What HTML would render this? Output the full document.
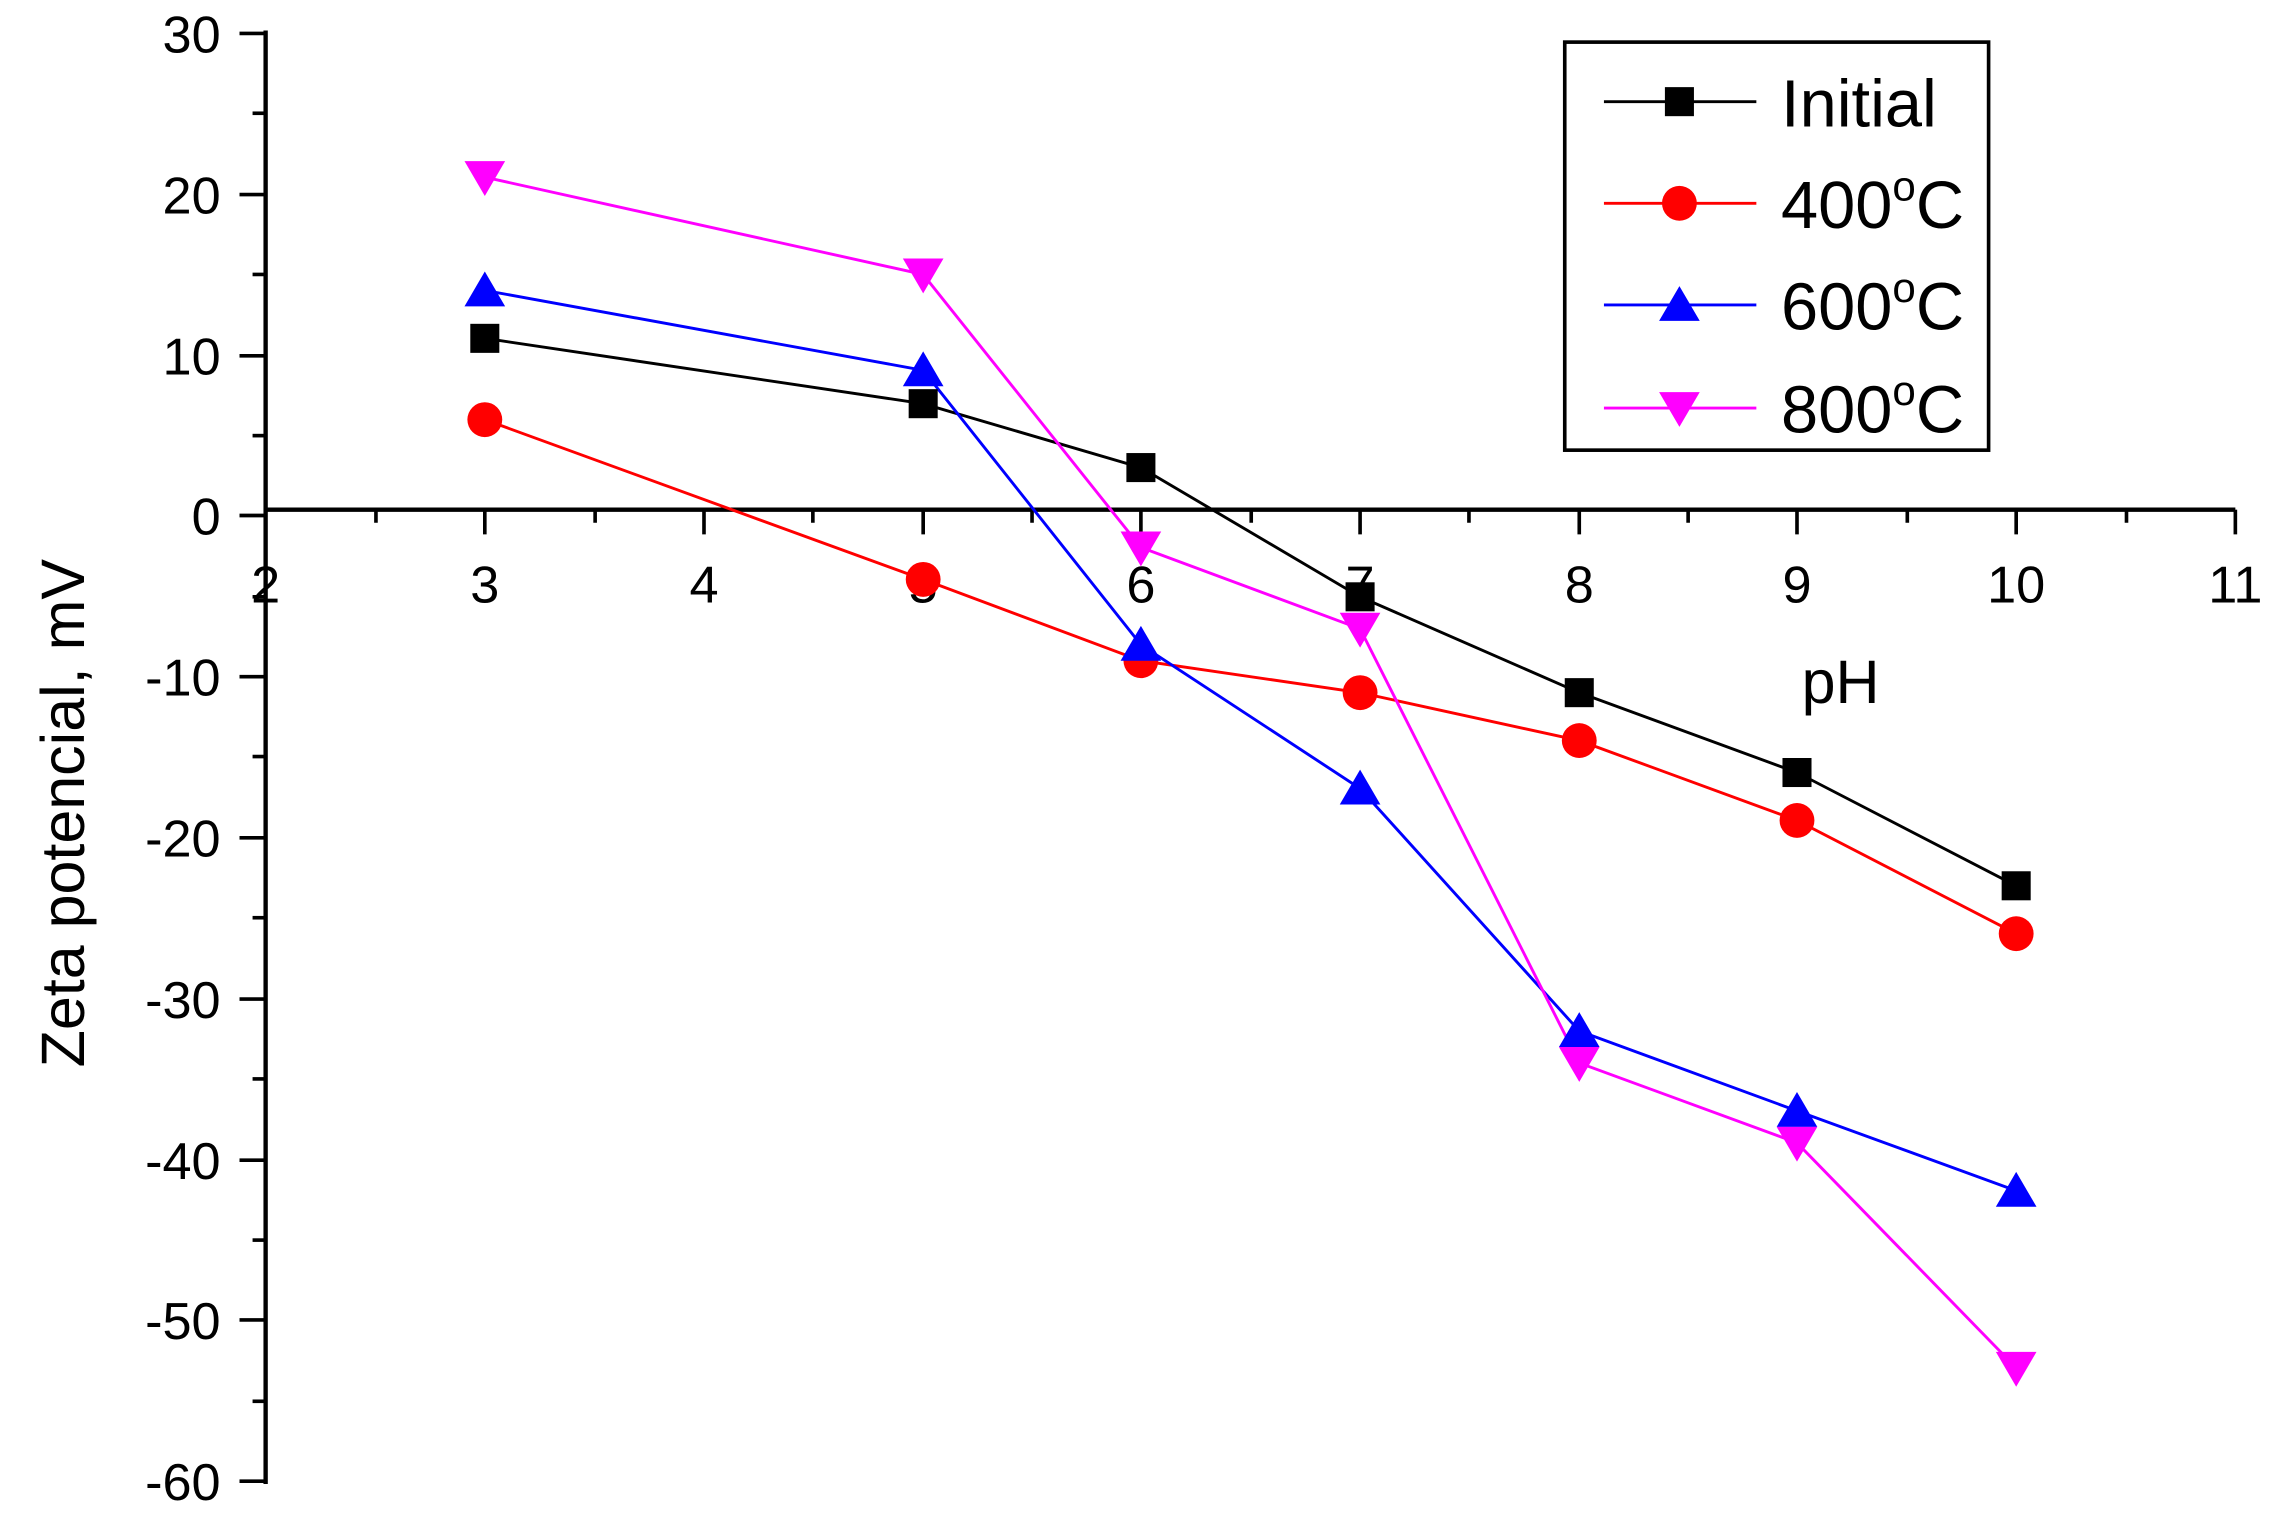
<!DOCTYPE html>
<html><head><meta charset="utf-8"><style>html,body{margin:0;padding:0;background:#fff}svg{display:block}</style></head>
<body>
<svg width="2276" height="1516" viewBox="0 0 1568 1044" preserveAspectRatio="none" xmlns="http://www.w3.org/2000/svg" font-family="Liberation Sans, Arial, sans-serif">
<rect width="1568" height="1044" fill="#fff"/>
<g stroke="#000" stroke-width="3">
<line x1="183" y1="21" x2="183" y2="1022"/>
<line x1="183" y1="351" x2="1540" y2="351"/>
</g>
<g stroke="#000" stroke-width="2.5">
<line x1="165" y1="23" x2="183" y2="23"/><line x1="165" y1="134" x2="183" y2="134"/><line x1="165" y1="245" x2="183" y2="245"/><line x1="165" y1="355" x2="183" y2="355"/><line x1="165" y1="466" x2="183" y2="466"/><line x1="165" y1="577" x2="183" y2="577"/><line x1="165" y1="688" x2="183" y2="688"/><line x1="165" y1="799" x2="183" y2="799"/><line x1="165" y1="909" x2="183" y2="909"/><line x1="165" y1="1020" x2="183" y2="1020"/>
<line x1="174" y1="78" x2="183" y2="78"/><line x1="174" y1="189" x2="183" y2="189"/><line x1="174" y1="300" x2="183" y2="300"/><line x1="174" y1="411" x2="183" y2="411"/><line x1="174" y1="521" x2="183" y2="521"/><line x1="174" y1="632" x2="183" y2="632"/><line x1="174" y1="743" x2="183" y2="743"/><line x1="174" y1="854" x2="183" y2="854"/><line x1="174" y1="965" x2="183" y2="965"/>
<line x1="334" y1="351" x2="334" y2="368"/><line x1="485" y1="351" x2="485" y2="368"/><line x1="636" y1="351" x2="636" y2="368"/><line x1="786" y1="351" x2="786" y2="368"/><line x1="937" y1="351" x2="937" y2="368"/><line x1="1088" y1="351" x2="1088" y2="368"/><line x1="1238" y1="351" x2="1238" y2="368"/><line x1="1389" y1="351" x2="1389" y2="368"/><line x1="1540" y1="351" x2="1540" y2="368"/>
<line x1="259" y1="351" x2="259" y2="360"/><line x1="410" y1="351" x2="410" y2="360"/><line x1="560" y1="351" x2="560" y2="360"/><line x1="711" y1="351" x2="711" y2="360"/><line x1="862" y1="351" x2="862" y2="360"/><line x1="1012" y1="351" x2="1012" y2="360"/><line x1="1163" y1="351" x2="1163" y2="360"/><line x1="1314" y1="351" x2="1314" y2="360"/><line x1="1465" y1="351" x2="1465" y2="360"/>
</g>
<g font-size="36" text-anchor="end">
<text x="152" y="36">30</text><text x="152" y="147">20</text><text x="152" y="258">10</text><text x="152" y="368">0</text><text x="152" y="479">-10</text><text x="152" y="590">-20</text><text x="152" y="701">-30</text><text x="152" y="812">-40</text><text x="152" y="922">-50</text><text x="152" y="1033">-60</text>
</g>
<g font-size="36" text-anchor="middle">
<text x="183" y="415">2</text><text x="334" y="415">3</text><text x="485" y="415">4</text><text x="636" y="415">5</text><text x="786" y="415">6</text><text x="937" y="415">7</text><text x="1088" y="415">8</text><text x="1238" y="415">9</text><text x="1389" y="415">10</text><text x="1540" y="415">11</text>
</g>
<text x="1268" y="484" font-size="42" text-anchor="middle">pH</text>
<text transform="translate(58,560) rotate(-90)" font-size="42" text-anchor="middle">Zeta potencial, mV</text>
<polyline fill="none" stroke="#000" stroke-width="2" points="334,233 636,278 786,322 937,411 1088,477 1238,532 1389,610"/>
<polyline fill="none" stroke="#f00" stroke-width="2" points="334,289 636,399 786,455 937,477 1088,510 1238,565 1389,643"/>
<polyline fill="none" stroke="#00f" stroke-width="2" points="334,200 636,255 786,444 937,543 1088,710 1238,765 1389,820"/>
<polyline fill="none" stroke="#f0f" stroke-width="2" points="334,122 636,189 786,377 937,433 1088,732 1238,787 1389,942"/>
<g fill="#000">
<rect x="324" y="223" width="20" height="20"/><rect x="626" y="268" width="20" height="20"/><rect x="776" y="312" width="20" height="20"/><rect x="927" y="401" width="20" height="20"/><rect x="1078" y="467" width="20" height="20"/><rect x="1228" y="522" width="20" height="20"/><rect x="1379" y="600" width="20" height="20"/>
</g>
<g fill="#f00">
<circle cx="334" cy="289" r="12"/><circle cx="636" cy="399" r="12"/><circle cx="786" cy="455" r="12"/><circle cx="937" cy="477" r="12"/><circle cx="1088" cy="510" r="12"/><circle cx="1238" cy="565" r="12"/><circle cx="1389" cy="643" r="12"/>
</g>
<g fill="#00f">
<polygon points="334,187 320,211 348,211"/><polygon points="636,242 622,266 650,266"/><polygon points="786,431 772,455 800,455"/><polygon points="937,530 923,554 951,554"/><polygon points="1088,697 1074,721 1102,721"/><polygon points="1238,752 1224,776 1252,776"/><polygon points="1389,807 1375,831 1403,831"/>
</g>
<g fill="#f0f">
<polygon points="334,135 320,111 348,111"/><polygon points="636,202 622,178 650,178"/><polygon points="786,390 772,366 800,366"/><polygon points="937,446 923,422 951,422"/><polygon points="1088,745 1074,721 1102,721"/><polygon points="1238,800 1224,776 1252,776"/><polygon points="1389,955 1375,931 1403,931"/>
</g>
<rect x="1078" y="29" width="292" height="281" fill="#fff" stroke="#000" stroke-width="2.5"/>
<line x1="1105" y1="70" x2="1210" y2="70" stroke="#000" stroke-width="2"/>
<rect x="1147" y="60" width="20" height="20" fill="#000"/>
<line x1="1105" y1="140" x2="1210" y2="140" stroke="#f00" stroke-width="2"/>
<circle cx="1157" cy="140" r="12" fill="#f00"/>
<line x1="1105" y1="210" x2="1210" y2="210" stroke="#00f" stroke-width="2"/>
<polygon points="1157,197 1143,221 1171,221" fill="#00f"/>
<line x1="1105" y1="281" x2="1210" y2="281" stroke="#f0f" stroke-width="2"/>
<polygon points="1157,294 1143,270 1171,270" fill="#f0f"/>
<g font-size="46">
<text x="1227" y="87">Initial</text>
<text x="1227" y="157">400<tspan font-size="29" dy="-19">o</tspan><tspan dy="19">C</tspan></text>
<text x="1227" y="227">600<tspan font-size="29" dy="-19">o</tspan><tspan dy="19">C</tspan></text>
<text x="1227" y="298">800<tspan font-size="29" dy="-19">o</tspan><tspan dy="19">C</tspan></text>
</g>
</svg>
</body></html>
